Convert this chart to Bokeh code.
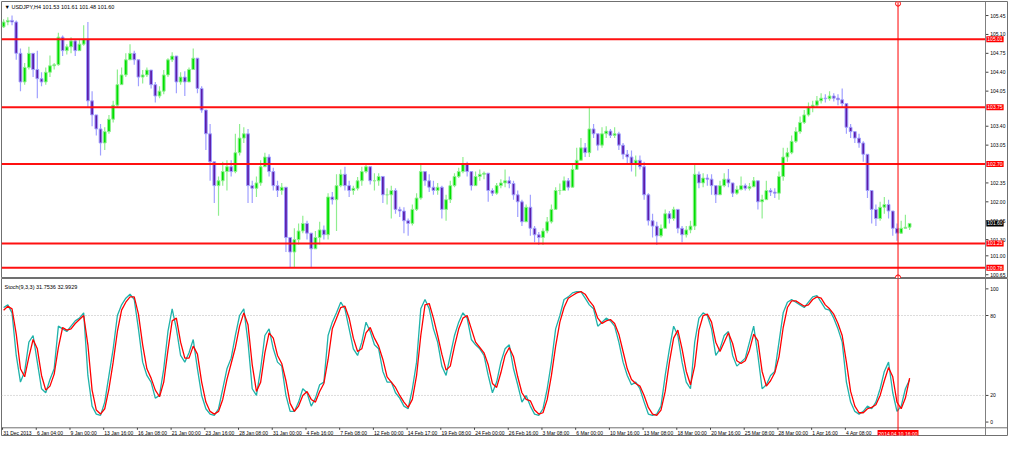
from bokeh.plotting import figure
from bokeh.models import Range1d, Span, Label, ColumnDataSource
from bokeh.core.properties import value
from bokeh.layouts import column
from bokeh.embed import file_html
from bokeh.resources import INLINE

FONT = "Liberation Sans"

# ---------------- data (each candle = two H4 bars) ----------------
header_text = "\u25BC USDJPY,H4 101.53 101.61 101.48 101.60"
stoch_text = "Stoch(9,3,3) 31.7536 32.9929"
first_open = 105.24
closes = [
    105.33, 105.36, 105.33, 104.75, 104.22, 104.49, 104.75, 104.45, 104.28, 104.22,
    104.40, 104.52, 104.54, 105.05, 104.80, 104.87, 104.98, 104.80, 104.92, 105.01,
    103.87, 103.61, 103.35, 103.09, 103.30, 103.53, 103.79, 104.17, 104.35, 104.63,
    104.75, 104.63, 104.31, 104.35, 104.44, 104.17, 103.96, 104.05, 104.35, 104.63,
    104.70, 104.22, 104.31, 104.22, 104.45, 104.66, 104.10, 103.70, 103.26, 102.74,
    102.30, 102.39, 102.56, 102.65, 102.56, 102.91, 103.18, 103.26, 102.30, 102.25,
    102.35, 102.65, 102.83, 102.56, 102.30, 102.21, 102.27, 101.34, 101.07, 101.30,
    101.46, 101.60, 101.42, 101.13, 101.34, 101.48, 101.39, 102.09, 102.04, 102.30,
    102.51, 102.30, 102.21, 102.25, 102.39, 102.56, 102.65, 102.39, 102.39, 102.47,
    102.13, 102.13, 102.21, 101.86, 101.83, 101.65, 101.60, 101.86, 102.07, 102.56,
    102.39, 102.27, 102.21, 102.27, 101.86, 102.04, 102.30, 102.47, 102.56, 102.70,
    102.56, 102.30, 102.47, 102.51, 102.53, 102.21, 102.16, 102.30, 102.35, 102.39,
    102.34, 102.13, 102.00, 101.63, 101.90, 101.51, 101.39, 101.34, 101.46, 101.63,
    101.86, 102.21, 102.21, 102.39, 102.27, 102.60, 102.77, 103.00, 102.91, 103.35,
    103.26, 103.05, 103.26, 103.31, 103.23, 103.26, 103.05, 102.88, 102.83, 102.70,
    102.77, 102.65, 102.13, 101.65, 101.55, 101.37, 101.51, 101.78, 101.69, 101.86,
    101.51, 101.39, 101.48, 101.55, 102.51, 102.35, 102.44, 102.42, 102.30, 102.13,
    102.30, 102.42, 102.35, 102.16, 102.23, 102.30, 102.25, 102.28, 102.39, 102.00,
    102.04, 102.21, 102.18, 102.16, 102.47, 102.83, 102.91, 103.12, 103.30, 103.47,
    103.61, 103.75, 103.79, 103.87, 103.92, 103.91, 103.96, 103.92, 103.89, 103.82,
    103.38, 103.30, 103.18, 103.09, 102.88, 102.21, 101.86, 101.69, 101.90, 101.95,
    101.83, 101.51, 101.42, 101.51, 101.53, 101.60,
]
highs = [
    105.38, 105.42, 105.45, 105.36, 104.84, 104.57, 104.87, 104.66, 104.80, 104.40,
    104.49, 104.71, 104.57, 105.13, 105.08, 104.92, 105.05, 105.01, 105.01, 105.27,
    105.33, 104.05, 103.61, 103.44, 103.38, 103.61, 103.87, 104.45, 104.49, 104.75,
    104.92, 104.80, 104.63, 104.44, 104.49, 104.40, 104.22, 104.14, 104.44, 104.66,
    104.77, 104.70, 104.40, 104.42, 104.49, 104.84, 104.66, 104.14, 103.66, 103.44,
    102.56, 102.47, 102.74, 102.77, 102.77, 103.26, 103.44, 103.38, 103.35, 102.39,
    102.47, 102.77, 102.91, 102.88, 102.63, 102.39, 102.35, 102.21, 101.34, 101.51,
    101.60, 101.74, 101.65, 101.42, 101.46, 101.63, 101.56, 102.16, 102.18, 102.51,
    102.60, 102.65, 102.39, 102.30, 102.46, 102.65, 102.70, 102.65, 102.53, 102.53,
    102.47, 102.25, 102.30, 102.25, 101.91, 101.90, 101.69, 101.95, 102.16, 102.70,
    102.56, 102.51, 102.39, 102.35, 102.30, 102.13, 102.39, 102.53, 102.63, 102.83,
    102.74, 102.56, 102.56, 102.60, 102.56, 102.53, 102.25, 102.35, 102.42, 102.60,
    102.47, 102.39, 102.21, 102.04, 101.95, 102.13, 101.55, 101.44, 101.51, 101.72,
    101.95, 102.27, 102.34, 102.47, 102.44, 102.70, 103.00, 103.18, 103.09, 103.74,
    103.44, 103.26, 103.38, 103.40, 103.35, 103.38, 103.30, 103.09, 102.96, 102.95,
    102.86, 102.86, 102.74, 102.16, 101.78, 101.63, 101.58, 101.86, 101.83, 101.91,
    101.86, 101.55, 101.55, 101.65, 102.68, 102.56, 102.53, 102.51, 102.51, 102.30,
    102.39, 102.53, 102.61, 102.30, 102.30, 102.47, 102.34, 102.35, 102.46, 102.39,
    102.13, 102.39, 102.25, 102.25, 102.56, 103.00, 103.00, 103.23, 103.38, 103.58,
    103.70, 103.84, 103.87, 103.96, 104.01, 103.99, 104.05, 104.01, 103.99, 104.10,
    103.82, 103.44, 103.31, 103.26, 103.12, 102.83, 102.13, 101.95, 102.00, 102.09,
    102.04, 101.83, 101.60, 101.65, 101.76, 101.61,
]
lows = [
    105.22, 105.27, 105.27, 104.63, 104.05, 104.17, 104.45, 104.31, 103.92, 104.14,
    104.17, 104.31, 104.45, 104.52, 104.70, 104.73, 104.75, 104.70, 104.80, 104.89,
    103.75, 103.40, 103.23, 102.86, 102.96, 103.26, 103.47, 103.75, 104.21, 104.31,
    104.63, 104.54, 104.14, 104.19, 104.31, 104.10, 103.84, 103.92, 103.99, 104.31,
    104.59, 104.01, 104.17, 103.96, 104.28, 104.54, 104.01, 103.65, 102.96, 102.39,
    101.98, 101.74, 102.30, 102.21, 102.47, 102.53, 102.86, 103.09, 101.98, 101.98,
    102.09, 102.30, 102.65, 102.47, 102.21, 102.09, 102.13, 101.07, 100.78, 100.79,
    101.21, 101.42, 101.30, 100.78, 101.21, 101.21, 101.30, 101.30, 101.95, 101.46,
    102.27, 102.21, 102.09, 102.13, 102.21, 102.30, 102.53, 102.32, 102.21, 102.30,
    101.98, 101.95, 101.69, 101.78, 101.72, 101.42, 101.37, 101.56, 101.83, 102.04,
    102.30, 102.18, 102.13, 102.13, 101.69, 101.65, 101.98, 102.27, 102.44, 102.53,
    102.47, 102.21, 102.35, 102.39, 102.42, 102.00, 102.11, 102.13, 102.25, 102.27,
    102.25, 102.04, 101.72, 101.55, 101.78, 101.37, 101.25, 101.20, 101.20, 101.42,
    101.60, 101.86, 102.13, 102.21, 102.21, 102.27, 102.60, 102.77, 102.83, 102.83,
    103.18, 102.95, 103.00, 103.18, 103.18, 103.18, 102.96, 102.79, 102.70, 102.56,
    102.47, 102.60, 102.04, 101.56, 101.34, 101.20, 101.34, 101.51, 101.60, 101.65,
    101.42, 101.25, 101.34, 101.42, 101.48, 102.25, 102.27, 102.30, 102.13, 101.98,
    102.13, 102.27, 102.27, 102.09, 102.13, 102.21, 102.21, 102.21, 102.27, 101.86,
    101.69, 102.04, 102.11, 102.07, 102.04, 102.39, 102.74, 102.88, 103.09, 103.26,
    103.44, 103.58, 103.66, 103.75, 103.82, 103.84, 103.87, 103.86, 103.79, 103.75,
    103.26, 103.18, 103.09, 103.00, 102.74, 102.07, 101.60, 101.55, 101.65, 101.78,
    101.69, 101.37, 101.28, 101.41, 101.51, 101.48,
]
stoch_k = [
    86, 88, 82, 50, 30, 38, 60, 65, 45, 25,
    22, 32, 40, 72, 70, 68, 72, 76, 78, 82,
    35, 12, 6, 5, 15, 35, 55, 80, 88, 93,
    96, 92, 70, 45, 35, 30, 18, 20, 40, 68,
    85, 70, 50, 45, 52, 62, 40, 20, 10, 6,
    5, 10, 25, 40, 48, 65, 80, 85, 60, 25,
    20, 40, 65, 70, 55, 45, 42, 20, 8, 8,
    15, 25, 22, 12, 18, 28, 30, 65, 75, 82,
    90, 85, 70, 55, 50, 60, 75, 68, 58, 55,
    38, 30, 30, 22, 18, 12, 10, 25, 45, 85,
    92, 85, 70, 60, 42, 35, 50, 65, 75, 82,
    78, 62, 58, 55, 50, 35, 22, 30, 45, 55,
    58, 40, 28, 15, 20, 12, 6, 5, 10, 25,
    45, 70, 80, 92, 94, 97, 98, 98, 93, 88,
    85, 72, 75, 78, 76, 72, 60, 45, 35, 28,
    30, 25, 15, 6, 5, 6, 12, 35, 55, 72,
    65, 45, 30, 25, 60, 78, 82, 80, 70, 50,
    55, 65, 68, 50, 42, 45, 48, 60, 72, 50,
    25, 28, 35, 38, 60, 82, 90, 92, 90, 88,
    86, 90, 94, 95, 90, 85, 84, 78, 70, 60,
    30, 15, 8, 6, 8, 12, 10, 15, 25, 38,
    45, 22, 8, 12, 25, 31.75,
]
stoch_d = [
    84, 87, 85, 66, 40, 34, 49, 62, 55, 35,
    24, 27, 36, 56, 71, 69, 70, 74, 77, 80,
    58, 24, 9, 6, 10, 25, 45, 68, 84, 90,
    94, 94, 81, 58, 40, 33, 24, 19, 30, 54,
    76, 78, 60, 48, 48, 57, 51, 30, 15, 8,
    6, 8, 17, 32, 44, 56, 72, 82, 73, 43,
    23, 30, 52, 67, 63, 50, 44, 31, 14, 8,
    12, 20, 23, 17, 15, 23, 29, 47, 70, 78,
    86, 87, 78, 63, 53, 55, 67, 71, 63, 57,
    47, 34, 30, 26, 20, 15, 11, 17, 35, 65,
    88, 89, 78, 65, 51, 39, 42, 57, 70, 78,
    80, 70, 60, 56, 52, 43, 29, 26, 37, 50,
    56, 49, 34, 22, 17, 16, 9, 6, 7, 17,
    35, 57, 75, 86, 93, 95, 97, 98, 96, 91,
    87, 78, 74, 76, 77, 74, 66, 53, 40, 32,
    29, 27, 20, 11, 6, 5, 9, 23, 45, 63,
    69, 55, 38, 28, 42, 69, 80, 81, 75, 60,
    53, 60, 67, 59, 46, 44, 46, 54, 66, 61,
    38, 27, 31, 37, 49, 71, 86, 91, 91, 89,
    87, 88, 92, 94, 93, 88, 85, 81, 74, 65,
    45, 23, 12, 7, 7, 10, 11, 13, 20, 31,
    41, 34, 15, 10, 18, 32.99,
]
level_prices = [105.01, 103.75, 102.70, 101.23, 100.78]
last_price = 101.60
price_ticks = [105.45, 105.10, 104.75, 104.40, 104.05, 103.40, 103.05,
               102.35, 102.00, 101.65, 101.30, 101.00, 100.65]
stoch_ticks = [0, 20, 80, 100]
stoch_levels = [20, 80]
time_labels = ["31 Dec 2013", "6 Jan 04:00", "9 Jan 00:00", "13 Jan 16:00", "16 Jan 08:00",
               "21 Jan 00:00", "23 Jan 16:00", "28 Jan 08:00", "31 Jan 00:00", "4 Feb 16:00",
               "7 Feb 08:00", "12 Feb 00:00", "14 Feb 17:00", "19 Feb 08:00", "24 Feb 00:00",
               "26 Feb 16:00", "3 Mar 08:00", "6 Mar 00:00", "10 Mar 16:00", "13 Mar 08:00",
               "18 Mar 00:00", "20 Mar 16:00", "25 Mar 08:00", "28 Mar 00:00", "1 Apr 16:00",
               "4 Apr 08:00"]
bars_per_label = 16
bars_per_candle = 2
vline_bar = 425
vline_label = "2014.04.10 16:00"

# ---------------- geometry ----------------
FRAME_W = 1006          # whole frame incl. the price-scale strip
CHART_W = 984           # chart part left of the price scale line
PX_PER_BAR = 2.107
X0 = -0.5
X_END = X0 + FRAME_W / PX_PER_BAR
AXIS_X = X0 + CHART_W / PX_PER_BAR
STOCH_BOTTOM = -4.3
P_LO, P_HI = 100.58, 105.71

# ---------------- build ----------------
n = min(len(closes), len(highs), len(lows), len(stoch_k), len(stoch_d))
opens = [first_open] + closes[:n - 1]
xs = [bars_per_candle * i + 0.5 for i in range(n)]
up = [closes[i] >= opens[i] for i in range(n)]
BULL_BODY, BULL_EDGE = "#00e000", "#90ee90"
BEAR_BODY, BEAR_EDGE = "#5c1caa", "#a0a0ff"
OUT = "#707070"
AXC = "#808080"

src = ColumnDataSource(dict(
    x=xs, high=highs[:n], low=lows[:n],
    top=[max(opens[i], closes[i]) for i in range(n)],
    bottom=[min(opens[i], closes[i]) for i in range(n)],
    body=[BULL_BODY if u else BEAR_BODY for u in up],
    edge=[BULL_EDGE if u else BEAR_EDGE for u in up],
))
ssrc = ColumnDataSource(dict(x=xs, k=stoch_k[:n], d=stoch_d[:n]))

xr = Range1d(X0, X_END)


def base_fig(h, yr, top, bottom):
    f = figure(frame_width=FRAME_W, frame_height=h, x_range=xr, y_range=yr,
               output_backend="svg", toolbar_location=None, x_axis_location=None,
               y_axis_location=None, min_border_left=1, min_border_right=1,
               min_border_top=top, min_border_bottom=bottom, outline_line_color=OUT,
               background_fill_color="white", border_fill_color="white")
    f.grid.visible = False
    return f


def price_scale(f, ticks, labels):
    f.add_layout(Span(location=AXIS_X, dimension="height", line_color=AXC, line_width=1))
    f.segment(x0=[AXIS_X] * len(ticks), y0=ticks, x1=[AXIS_X + 1.4] * len(ticks), y1=ticks,
              line_color="#404040", line_width=1)
    f.text(x=[AXIS_X + 2.2] * len(ticks), y=ticks, text=labels,
           text_font=value(FONT), text_font_size="5px", text_color="#000000",
           text_baseline="middle", text_align="left")


# ---- price panel ----
p = base_fig(277, Range1d(P_LO, P_HI), 1, 0)
p.segment(x0="x", y0="high", x1="x", y1="low", source=src, line_color="edge", line_width=1.2)
p.vbar(x="x", width=1.3, top="top", bottom="bottom", source=src,
       fill_color="body", line_color="edge", line_width=1)
p.segment(x0=[X0] * len(level_prices), y0=level_prices,
          x1=[AXIS_X] * len(level_prices), y1=level_prices,
          line_color="#ff1010", line_width=2)
price_scale(p, price_ticks, [f"{t:.2f}" for t in price_ticks])
for lv in level_prices:
    p.add_layout(Label(x=AXIS_X + 0.4, y=lv, text=f"{lv:.2f}",
                       text_font=FONT, text_font_size="5px", text_color="white",
                       text_baseline="middle", text_align="left",
                       background_fill_color="#ff0000", padding=1))
p.add_layout(Label(x=AXIS_X + 0.4, y=last_price, text=f"{last_price:.2f}",
                   text_font=FONT, text_font_size="5px", text_color="white",
                   text_baseline="middle", text_align="left",
                   background_fill_color="#000000", padding=1))
p.add_layout(Span(location=vline_bar, dimension="height", line_color="#ff0000", line_width=1))
p.scatter([vline_bar, vline_bar], [P_HI - 0.04, P_LO + 0.02], size=5, marker="circle",
          fill_color="white", line_color="#ff0000", line_width=1)
p.add_layout(Label(x=3, y=275, x_units="screen", y_units="screen", text=header_text,
                   text_font=FONT, text_font_size="5.5px", text_color="#000000",
                   text_baseline="top", text_align="left"))

# ---- stochastic panel (frame also holds the time scale strip) ----
q = base_fig(157, Range1d(-10.08, 107.78), 0, 1)
q.segment(x0=[X0] * len(stoch_levels), y0=stoch_levels,
          x1=[AXIS_X] * len(stoch_levels), y1=stoch_levels,
          line_color="#b8b8b8", line_width=1, line_dash="1 2")
q.line("x", "k", source=ssrc, line_color="#20b2aa", line_width=1.3)
q.line("x", "d", source=ssrc, line_color="#ff0000", line_width=1.3)
q.segment(x0=[X0], y0=[STOCH_BOTTOM], x1=[X_END], y1=[STOCH_BOTTOM],
          line_color=OUT, line_width=1)
price_scale(q, stoch_ticks, [str(t) for t in stoch_ticks])
q.add_layout(Span(location=vline_bar, dimension="height", line_color="#ff0000", line_width=1))
q.add_layout(Label(x=3, y=152, x_units="screen", y_units="screen", text=stoch_text,
                   text_font=FONT, text_font_size="5.5px", text_color="#000000",
                   text_baseline="top", text_align="left"))

label_x = [k * bars_per_label + 0.3 for k in range(len(time_labels))]
q.segment(x0=[k * bars_per_label for k in range(len(time_labels))],
          y0=[STOCH_BOTTOM] * len(time_labels),
          x1=[k * bars_per_label for k in range(len(time_labels))],
          y1=[STOCH_BOTTOM - 1.5] * len(time_labels), line_color="#404040", line_width=1)
q.text(x=label_x, y=[STOCH_BOTTOM - 1.6] * len(time_labels), text=time_labels,
       text_font=value(FONT), text_font_size="5px", text_color="#000000",
       text_baseline="top", text_align="left")
q.add_layout(Label(x=vline_bar, y=STOCH_BOTTOM - 1.6, text=vline_label,
                   text_font=FONT, text_font_size="5px", text_color="white",
                   text_baseline="top", text_align="center",
                   background_fill_color="#ff0000", padding=1))

layout = column(p, q, spacing=0)
open("out.html", "w").write(file_html(layout, INLINE))
